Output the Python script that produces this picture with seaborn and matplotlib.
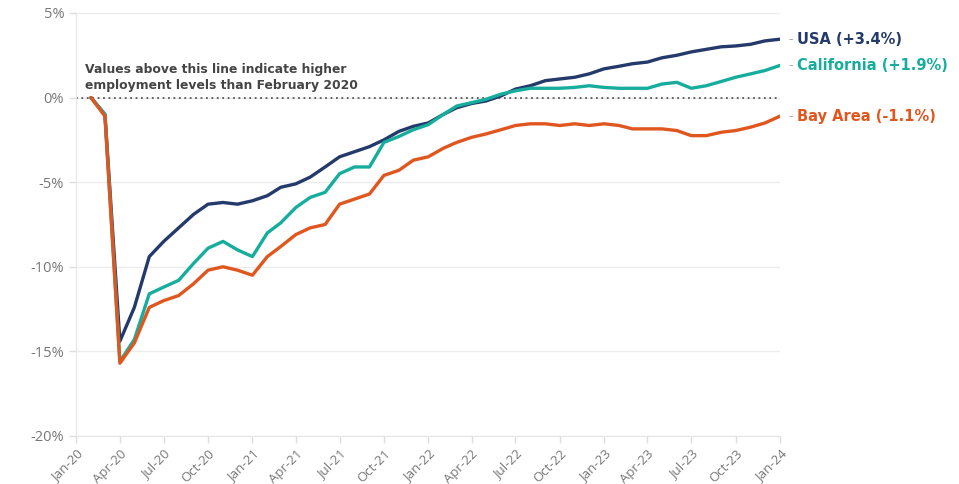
import pandas as pd
import matplotlib.pyplot as plt
import matplotlib.dates as mdates
import seaborn as sns

# monthly change in employment vs Feb 2020 (%), Feb-20 .. Jan-24
months = pd.date_range("2020-02-01", "2024-01-01", freq="MS")

usa = [0.0, -1.0, -14.4, -12.4, -9.4, -8.5, -7.7, -6.9, -6.3, -6.2, -6.3, -6.1,
       -5.8, -5.3, -5.1, -4.7, -4.1, -3.5, -3.2, -2.9, -2.5, -2.0, -1.7, -1.5,
       -1.0, -0.6, -0.35, -0.2, 0.1, 0.5, 0.7, 1.0, 1.1, 1.2, 1.4, 1.7,
       1.85, 2.0, 2.1, 2.35, 2.5, 2.7, 2.85, 3.0, 3.05, 3.15, 3.35, 3.45]

california = [0.0, -1.0, -15.6, -14.3, -11.6, -11.2, -10.8, -9.8, -8.9, -8.5, -9.0, -9.4,
              -8.0, -7.4, -6.5, -5.9, -5.6, -4.5, -4.1, -4.1, -2.65, -2.3, -1.9, -1.6,
              -1.0, -0.5, -0.3, -0.1, 0.2, 0.4, 0.55, 0.55, 0.55, 0.6, 0.7, 0.6,
              0.55, 0.55, 0.55, 0.8, 0.9, 0.55, 0.7, 0.95, 1.2, 1.4, 1.6, 1.9]

bay_area = [0.0, -1.1, -15.7, -14.5, -12.4, -12.0, -11.7, -11.0, -10.2, -10.0, -10.2, -10.5,
            -9.4, -8.8, -8.1, -7.7, -7.5, -6.3, -6.0, -5.7, -4.6, -4.3, -3.7, -3.5,
            -3.0, -2.65, -2.35, -2.15, -1.9, -1.65, -1.55, -1.55, -1.65, -1.55, -1.65, -1.55,
            -1.65, -1.85, -1.85, -1.85, -1.95, -2.25, -2.25, -2.05, -1.95, -1.75, -1.5, -1.1]

series = ["USA", "California", "Bay Area"]
labels = ["USA (+3.4%)", "California (+1.9%)", "Bay Area (-1.1%)"]
colors = ["#243a6b", "#17ad9d", "#e0561f"]

df = pd.DataFrame({
    "month": list(months) * 3,
    "change": usa + california + bay_area,
    "region": [s for s in series for _ in months],
})

sns.set_style("white")
plt.rcParams["font.family"] = ["Open Sans", "DejaVu Sans"]

fig = plt.figure(figsize=(9.59, 4.84), dpi=100)
ax = fig.add_axes([0.0793, 0.0992, 0.734, 0.874])

# zero reference line
ax.axhline(0, color="#555555", lw=1.3, ls=(0, (1, 2)), zorder=1)

sns.lineplot(data=df, x="month", y="change", hue="region", hue_order=series,
             palette=colors, linewidth=2.4, legend=False, ax=ax, zorder=3)

ax.set_xlim(pd.Timestamp("2020-01-01"), pd.Timestamp("2024-01-01"))
ax.set_ylim(-20, 5)
ax.set_yticks([-20, -15, -10, -5, 0, 5])
ax.set_yticklabels([f"{v}%" for v in [-20, -15, -10, -5, 0, 5]])
ax.xaxis.set_major_locator(mdates.MonthLocator(bymonth=[1, 4, 7, 10]))
ax.xaxis.set_major_formatter(mdates.DateFormatter("%b-%y"))
plt.setp(ax.get_xticklabels(), rotation=45, ha="right", rotation_mode="anchor")

ax.grid(axis="y", color="#ececec", lw=1)
ax.tick_params(axis="both", colors="#dddddd", labelcolor="#777777",
               length=5, width=1, direction="out", left=True, bottom=True)
ax.tick_params(axis="y", labelsize=10.5)
ax.tick_params(axis="x", labelsize=9.5, pad=3)
for side in ["top", "right"]:
    ax.spines[side].set_visible(False)
for side in ["left", "bottom"]:
    ax.spines[side].set_color("#e6e6e6")
ax.set_xlabel("")
ax.set_ylabel("")

ax.text(pd.Timestamp("2020-01-20"), 0.3,
        "Values above this line indicate higher\nemployment levels than February 2020",
        fontsize=8.9, fontweight="bold", color="#444444", va="bottom", ha="left",
        linespacing=1.3, family=["DejaVu Sans"])

# end-of-line labels
ends = [usa[-1], california[-1], bay_area[-1]]
for lab, col, val in zip(labels, colors, ends):
    ax.annotate("-", xy=(months[-1], val), xytext=(6, 0), textcoords="offset points",
                color="#aaaaaa", fontsize=10, va="center", ha="left", annotation_clip=False)
    ax.annotate(lab, xy=(months[-1], val), xytext=(12, 0), textcoords="offset points",
                color=col, fontsize=10.5, fontweight="bold", va="center", ha="left",
                annotation_clip=False, family=["DejaVu Sans"])

fig.savefig("out.png", dpi=100)
